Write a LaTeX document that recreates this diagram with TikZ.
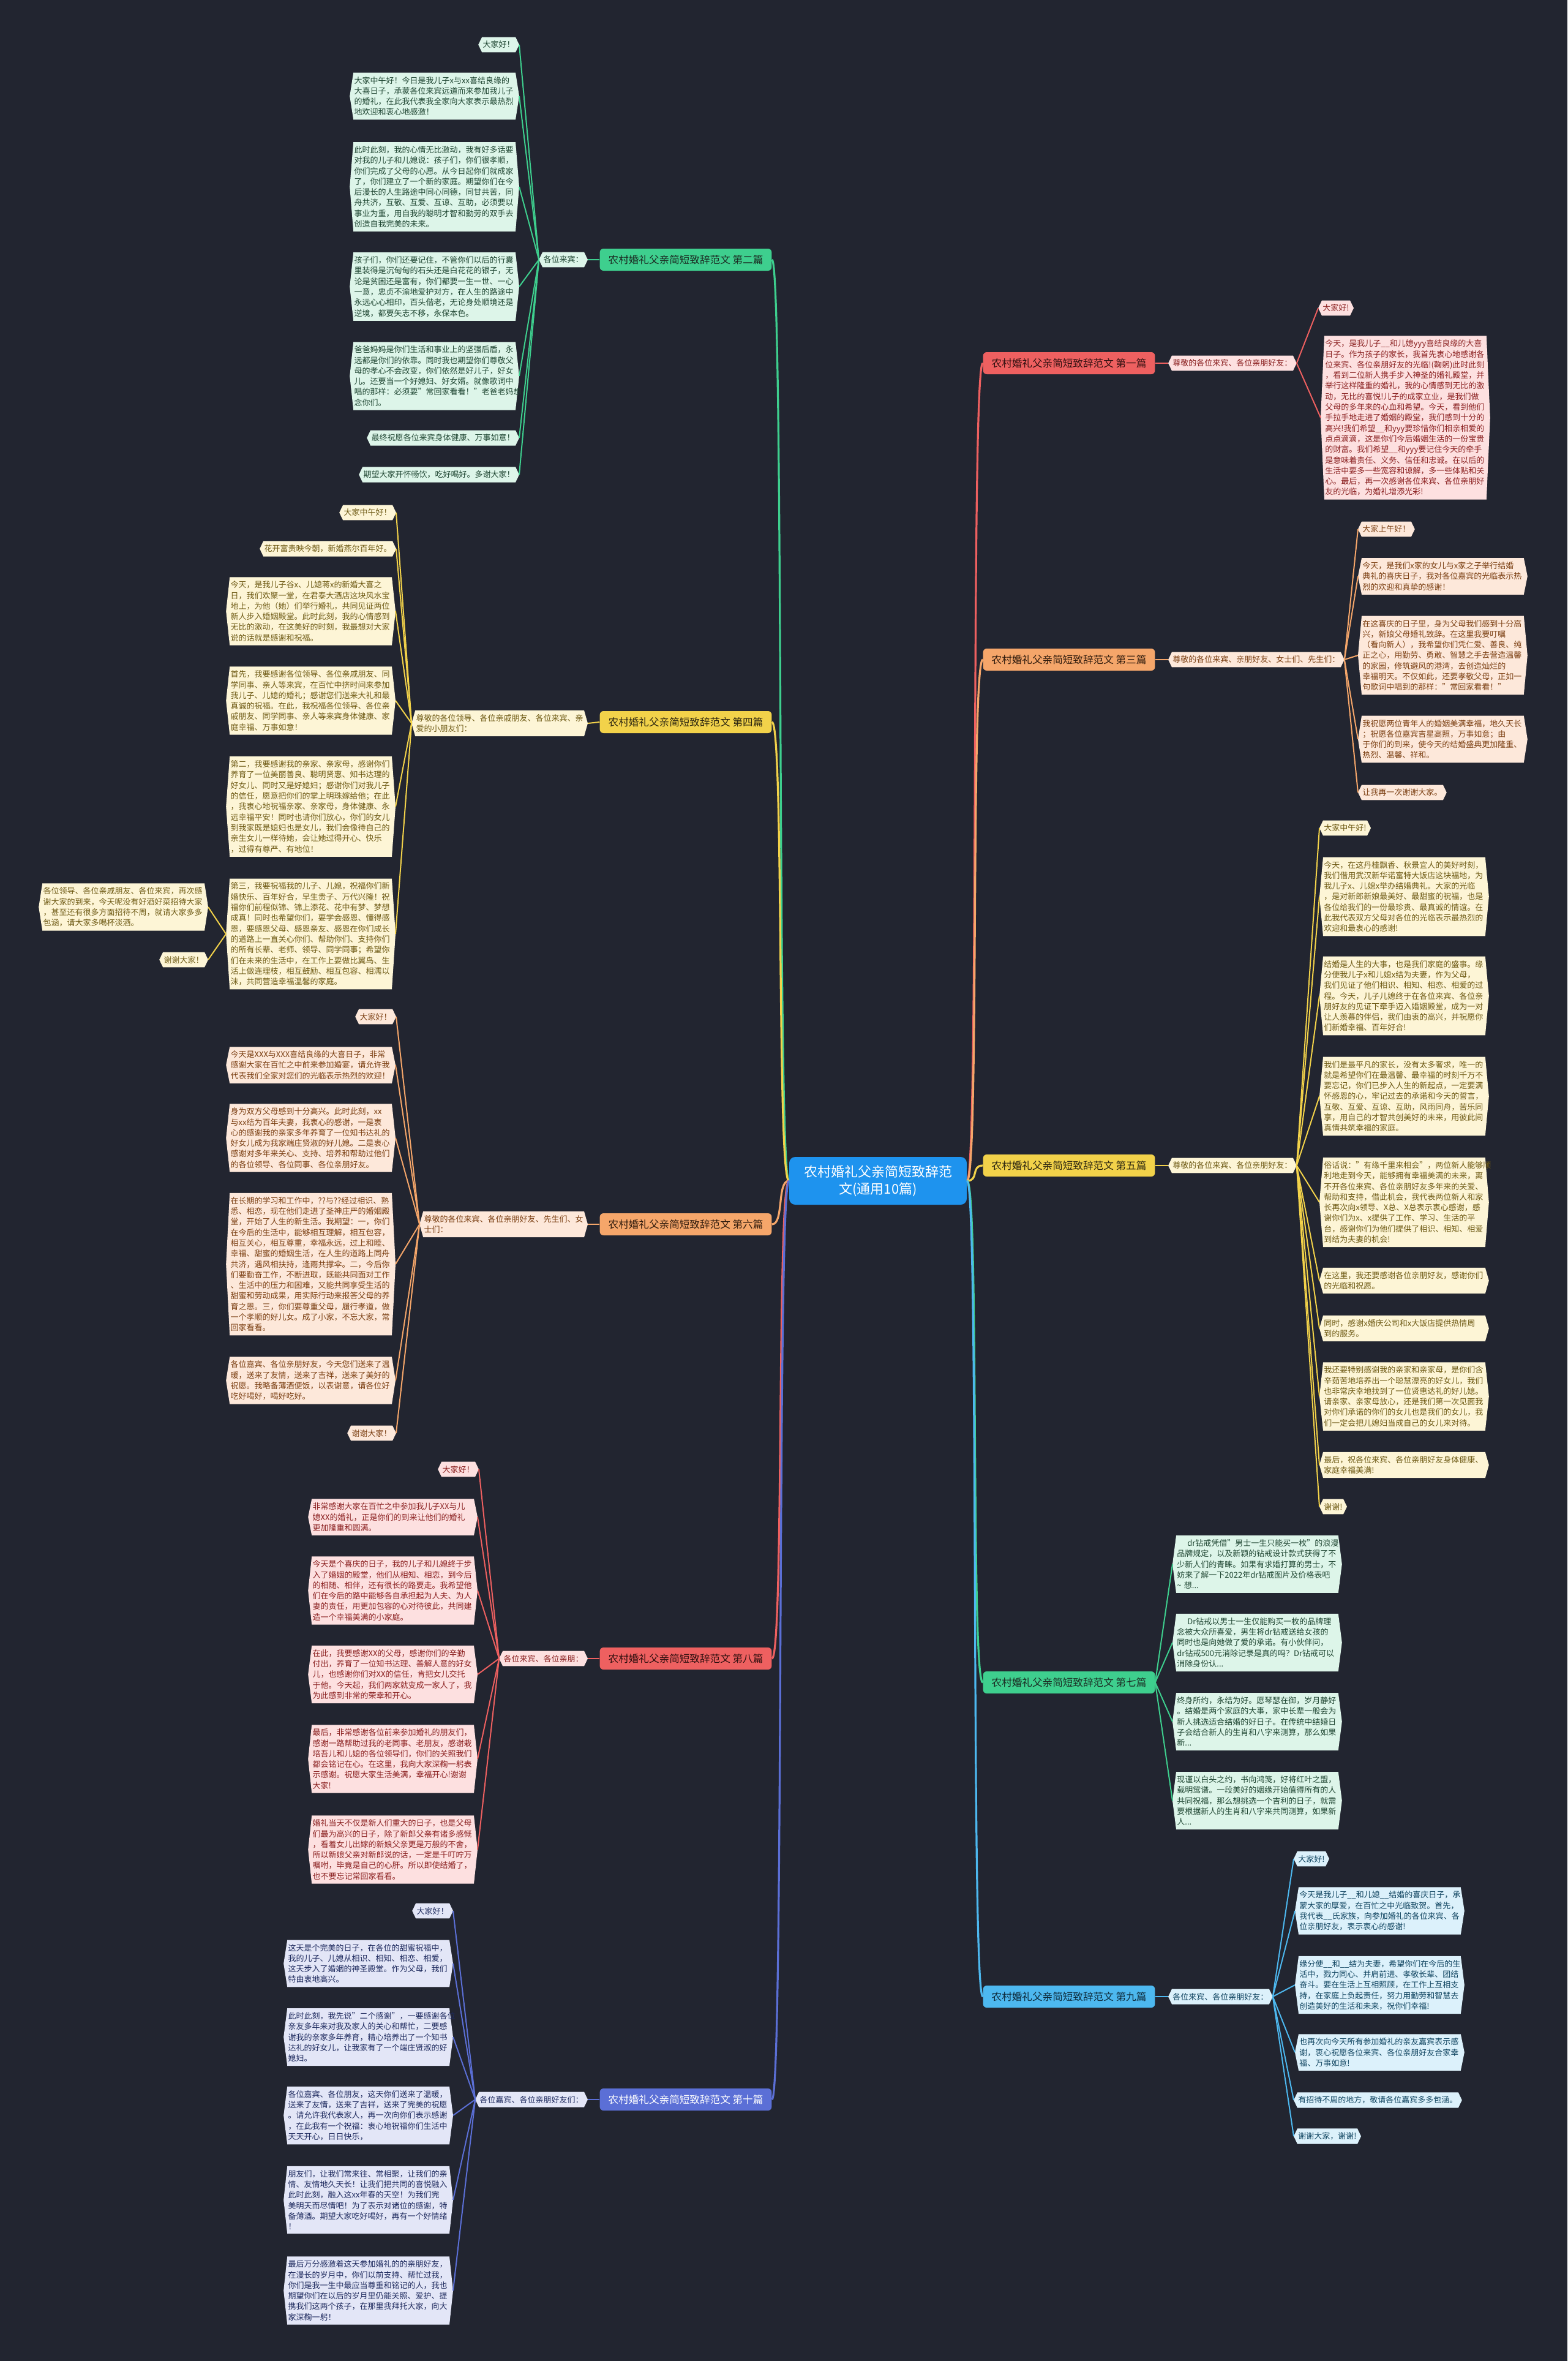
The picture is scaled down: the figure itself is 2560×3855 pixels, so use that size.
\documentclass[tikz,border=0pt]{standalone}
\usepackage{fontspec}
\setmainfont{Noto Sans CJK SC}
\usetikzlibrary{backgrounds}
\pgfdeclarelayer{bgzero}
\pgfsetlayers{bgzero,background,main}
\definecolor{bgc}{HTML}{222530}
\definecolor{gline}{HTML}{3ECF8E}\definecolor{gfill}{HTML}{DDF5E9}\definecolor{gtext}{HTML}{1F4632}\definecolor{gbtext}{HTML}{1B2A22}
\definecolor{yline}{HTML}{F2D24A}\definecolor{yfill}{HTML}{FDF5D6}\definecolor{ytext}{HTML}{6E5A14}\definecolor{ybtext}{HTML}{2A2410}
\definecolor{oline}{HTML}{F5A66A}\definecolor{ofill}{HTML}{FDE8DA}\definecolor{otext}{HTML}{7B3F12}\definecolor{obtext}{HTML}{2E1A0C}
\definecolor{rline}{HTML}{EE6060}\definecolor{rfill}{HTML}{FDE0E0}\definecolor{rtext}{HTML}{8A1F1F}\definecolor{rbtext}{HTML}{2E0F0F}
\definecolor{iline}{HTML}{5B6FD6}\definecolor{ifill}{HTML}{E3E6F7}\definecolor{itext}{HTML}{1E2A5E}\definecolor{ibtext}{HTML}{FFFFFF}
\definecolor{bline}{HTML}{4DB8EF}\definecolor{bfill}{HTML}{DCF1FB}\definecolor{btext}{HTML}{0F4460}\definecolor{bbtext}{HTML}{0E2A3A}
\definecolor{cfill}{HTML}{1E93EE}
\tikzset{
  leaf/.style={text=#1text, font=\fontsize{6.5pt}{8.65pt}\selectfont, inner xsep=3.5pt, inner ysep=3pt, align=left},
  big/.style={text width=131pt},
  conn/.style={draw=#1line, line width=1pt},
  trunk/.style={draw=#1line, line width=1.6pt},
  branch/.style={fill=#1line, text=#1btext, rounded corners=3pt, font=\fontsize{8.3pt}{10pt}\selectfont, minimum height=18pt, inner xsep=7pt},
  centre/.style={fill=cfill, text=white, rounded corners=5pt, font=\fontsize{11pt}{14pt}\selectfont, minimum width=145pt, minimum height=39pt, align=center}
}
\newcommand\leafnode[6][]{%
  \node[leaf=#3,#1,anchor=#4] (#2) at (#5) {#6};
  \begin{pgfonlayer}{background}
  \fill[#3fill] (#2.west) -- ([xshift=3pt]#2.north west) -- ([xshift=-3pt]#2.north east) -- (#2.east) -- ([xshift=-3pt]#2.south east) -- ([xshift=3pt]#2.south west) -- cycle;
  \end{pgfonlayer}}
\begin{document}
\begin{tikzpicture}[x=0.5pt,y=-0.5pt]
\begin{pgfonlayer}{bgzero}
\fill[bgc] (0,0) rectangle (2560,3855);
\end{pgfonlayer}
\useasboundingbox (0,0) rectangle (2560,3855);

% centre
\node[centre] (c) at (1434,1928) {农村婚礼父亲简短致辞范\\文(通用10篇)};

% branches
\node[branch=g] (b2) at (1120,424) {农村婚礼父亲简短致辞范文 第二篇};
\node[branch=y] (b4) at (1120,1179) {农村婚礼父亲简短致辞范文 第四篇};
\node[branch=o] (b6) at (1120,1999) {农村婚礼父亲简短致辞范文 第六篇};
\node[branch=r] (b8) at (1120,2708) {农村婚礼父亲简短致辞范文 第八篇};
\node[branch=i] (b10) at (1120,3428) {农村婚礼父亲简短致辞范文 第十篇};
\node[branch=r] (b1) at (1746,593) {农村婚礼父亲简短致辞范文 第一篇};
\node[branch=o] (b3) at (1746,1077) {农村婚礼父亲简短致辞范文 第三篇};
\node[branch=y] (b5) at (1746,1903) {农村婚礼父亲简短致辞范文 第五篇};
\node[branch=g] (b7) at (1746,2747) {农村婚礼父亲简短致辞范文 第七篇};
\node[branch=b] (b9) at (1746,3260) {农村婚礼父亲简短致辞范文 第九篇};

% mid labels
\leafnode{m2}{g}{east}{960,424}{各位来宾：}
\leafnode{m4}{y}{east}{960,1181}{尊敬的各位领导、各位亲戚朋友、各位来宾、亲\\爱的小朋友们：}
\leafnode{m6}{o}{east}{960,1999}{尊敬的各位来宾、各位亲朋好友、先生们、女\\士们：}
\leafnode{m8}{r}{east}{960,2708}{各位来宾、各位亲朋：}
\leafnode{m10}{i}{east}{960,3428}{各位嘉宾、各位亲朋好友们：}
\leafnode{m1}{r}{west}{1908,593}{尊敬的各位来宾、各位亲朋好友：}
\leafnode{m3}{o}{west}{1908,1077}{尊敬的各位来宾、亲朋好友、女士们、先生们：}
\leafnode{m5}{y}{west}{1908,1903}{尊敬的各位来宾、各位亲朋好友：}
\leafnode{m9}{b}{west}{1908,3260}{各位来宾、各位亲朋好友：}

% ---------- 第二篇
\leafnode{l2a}{g}{east}{848,73}{大家好！}
\leafnode[big]{l2b}{g}{east}{848,157}{大家中午好！今日是我儿子x与xx喜结良缘的\\大喜日子，承蒙各位来宾远道而来参加我儿子\\的婚礼，在此我代表我全家向大家表示最热烈\\地欢迎和衷心地感激！}
\leafnode[big]{l2c}{g}{east}{848,305}{此时此刻，我的心情无比激动，我有好多话要\\对我的儿子和儿媳说：孩子们，你们很孝顺，\\你们完成了父母的心愿。从今日起你们就成家\\了，你们建立了一个新的家庭。期望你们在今\\后漫长的人生路途中同心同德，同甘共苦，同\\舟共济，互敬、互爱、互谅、互助，必须要以\\事业为重，用自我的聪明才智和勤劳的双手去\\创造自我完美的未来。}
\leafnode[big]{l2d}{g}{east}{848,468}{孩子们，你们还要记住，不管你们以后的行囊\\里装得是沉甸甸的石头还是白花花的银子，无\\论是贫困还是富有，你们都要一生一世、一心\\一意，忠贞不渝地爱护对方，在人生的路途中\\永远心心相印，百头偕老，无论身处顺境还是\\逆境，都要矢志不移，永保本色。}
\leafnode[big]{l2e}{g}{east}{848,614}{爸爸妈妈是你们生活和事业上的坚强后盾，永\\远都是你们的依靠。同时我也期望你们尊敬父\\母的孝心不会改变，你们依然是好儿子，好女\\儿。还要当一个好媳妇、好女婿。就像歌词中\\唱的那样：必须要"常回家看看！"老爸老妈想\\念你们。}
\leafnode{l2f}{g}{east}{848,715}{最终祝愿各位来宾身体健康、万事如意！}
\leafnode{l2g}{g}{east}{848,775}{期望大家开怀畅饮，吃好喝好。多谢大家！}

% ---------- 第四篇
\leafnode{l4a}{y}{east}{647,837}{大家中午好！}
\leafnode{l4b}{y}{east}{647,896}{花开富贵映今朝，新婚燕尔百年好。}
\leafnode[big]{l4c}{y}{east}{646,998}{今天，是我儿子谷x、儿媳蒋x的新婚大喜之\\日，我们欢聚一堂，在君泰大酒店这块风水宝\\地上，为他（她）们举行婚礼，共同见证两位\\新人步入婚姻殿堂。此时此刻，我的心情感到\\无比的激动，在这美好的时刻，我最想对大家\\说的话就是感谢和祝福。}
\leafnode[big]{l4d}{y}{east}{646,1144}{首先，我要感谢各位领导、各位亲戚朋友、同\\学同事、亲人等来宾，在百忙中挤时间来参加\\我儿子、儿媳的婚礼；感谢您们送来大礼和最\\真诚的祝福。在此，我祝福各位领导、各位亲\\戚朋友、同学同事、亲人等来宾身体健康、家\\庭幸福、万事如意！}
\leafnode[big]{l4e}{y}{east}{646,1317}{第二，我要感谢我的亲家、亲家母，感谢你们\\养育了一位美丽善良、聪明贤惠、知书达理的\\好女儿、同时又是好媳妇；感谢你们对我儿子\\的信任，愿意把你们的掌上明珠嫁给他；在此\\，我衷心地祝福亲家、亲家母，身体健康、永\\远幸福平安！同时也请你们放心，你们的女儿\\到我家既是媳妇也是女儿，我们会像待自己的\\亲生女儿一样待她，会让她过得开心、快乐\\，过得有尊严、有地位！}
\leafnode[big]{l4f}{y}{east}{646,1525}{第三，我要祝福我的儿子、儿媳，祝福你们新\\婚快乐、百年好合，早生贵子、万代兴隆！祝\\福你们前程似锦、锦上添花、花中有梦、梦想\\成真！同时也希望你们，要学会感恩、懂得感\\恩，要感恩父母、感恩亲友、感恩在你们成长\\的道路上一直关心你们、帮助你们、支持你们\\的所有长辈、老师、领导、同学同事；希望你\\们在未来的生活中，在工作上要做比翼鸟、生\\活上做连理枝，相互鼓励、相互包容、相濡以\\沫，共同营造幸福温馨的家庭。}
\leafnode[big]{l4g}{y}{east}{340,1481}{各位领导、各位亲戚朋友、各位来宾，再次感\\谢大家的到来，今天呢没有好酒好菜招待大家\\，甚至还有很多方面招待不周，就请大家多多\\包涵，请大家多喝杯淡酒。}
\leafnode{l4h}{y}{east}{340,1567}{谢谢大家！}

% ---------- 第六篇
\leafnode{l6a}{o}{east}{647,1660}{大家好！}
\leafnode[big]{l6b}{o}{east}{646,1739}{今天是XXX与XXX喜结良缘的大喜日子，非常\\感谢大家在百忙之中前来参加婚宴，请允许我\\代表我们全家对您们的光临表示热烈的欢迎！}
\leafnode[big]{l6c}{o}{east}{646,1858}{身为双方父母感到十分高兴。此时此刻，xx\\与xx结为百年夫妻，我衷心的感谢，一是衷\\心的感谢我的亲家多年养育了一位知书达礼的\\好女儿成为我家端庄贤淑的好儿媳。二是衷心\\感谢对多年来关心、支持、培养和帮助过他们\\的各位领导、各位同事、各位亲朋好友。}
\leafnode[big]{l6d}{o}{east}{646,2064}{在长期的学习和工作中，??与??经过相识、熟\\悉、相恋，现在他们走进了圣神庄严的婚姻殿\\堂，开始了人生的新生活。我期望：一，你们\\在今后的生活中，能够相互理解，相互包容，\\相互关心，相互尊重，幸福永远，过上和睦、\\幸福、甜蜜的婚姻生活，在人生的道路上同舟\\共济，遇风相扶持，逢雨共撑伞。二，今后你\\们要勤奋工作，不断进取，既能共同面对工作\\、生活中的压力和困难，又能共同享受生活的\\甜蜜和劳动成果，用实际行动来报答父母的养\\育之恩。三，你们要尊重父母，履行孝道，做\\一个孝顺的好儿女。成了小家，不忘大家，常\\回家看看。}
\leafnode[big]{l6e}{o}{east}{646,2254}{各位嘉宾、各位亲朋好友，今天您们送来了温\\暖，送来了友情，送来了吉祥，送来了美好的\\祝愿。我略备薄酒便饭，以表谢意，请各位好\\吃好喝好，喝好吃好。}
\leafnode{l6f}{o}{east}{647,2340}{谢谢大家！}

% ---------- 第八篇
\leafnode{l8a}{r}{east}{782,2399}{大家好！}
\leafnode[big]{l8b}{r}{east}{780,2477}{非常感谢大家在百忙之中参加我儿子XX与儿\\媳XX的婚礼，正是你们的到来让他们的婚礼\\更加隆重和圆满。}
\leafnode[big]{l8c}{r}{east}{780,2597}{今天是个喜庆的日子，我的儿子和儿媳终于步\\入了婚姻的殿堂，他们从相知、相恋，到今后\\的相随、相伴，还有很长的路要走。我希望他\\们在今后的路中能够各自承担起为人夫、为人\\妻的责任，用更加包容的心对待彼此，共同建\\造一个幸福美满的小家庭。}
\leafnode[big]{l8d}{r}{east}{780,2734}{在此，我要感谢XX的父母，感谢你们的辛勤\\付出，养育了一位知书达理、善解人意的好女\\儿，也感谢你们对XX的信任，肯把女儿交托\\于他。今天起，我们两家就变成一家人了，我\\为此感到非常的荣幸和开心。}
\leafnode[big]{l8e}{r}{east}{780,2872}{最后，非常感谢各位前来参加婚礼的朋友们，\\感谢一路帮助过我的老同事、老朋友，感谢栽\\培吾儿和儿媳的各位领导们，你们的关照我们\\都会铭记在心。在这里，我向大家深鞠一躬表\\示感谢。祝愿大家生活美满，幸福开心!谢谢\\大家!}
\leafnode[big]{l8f}{r}{east}{780,3020}{婚礼当天不仅是新人们重大的日子，也是父母\\们最为高兴的日子，除了新郎父亲有诸多感慨\\，看着女儿出嫁的新娘父亲更是万般的不舍，\\所以新娘父亲对新郎说的话，一定是千叮咛万\\嘱咐，毕竟是自己的心肝。所以即使结婚了，\\也不要忘记常回家看看。}

% ---------- 第十篇
\leafnode{l10a}{i}{east}{740,3120}{大家好！}
\leafnode[big]{l10b}{i}{east}{740,3206}{这天是个完美的日子，在各位的甜蜜祝福中，\\我的儿子、儿媳从相识、相知、相恋、相爱，\\这天步入了婚姻的神圣殿堂。作为父母，我们\\特由衷地高兴。}
\leafnode[big]{l10c}{i}{east}{740,3326}{此时此刻，我先说"二个感谢"，一要感谢各位\\亲友多年来对我及家人的关心和帮忙，二要感\\谢我的亲家多年养育，精心培养出了一个知书\\达礼的好女儿，让我家有了一个端庄贤淑的好\\媳妇。}
\leafnode[big]{l10d}{i}{east}{740,3454}{各位嘉宾、各位朋友，这天你们送来了温暖，\\送来了友情，送来了吉祥，送来了完美的祝愿\\。请允许我代表家人，再一次向你们表示感谢\\，在此我有一个祝福：衷心地祝福你们生活中\\天天开心，日日快乐，}
\leafnode[big]{l10e}{i}{east}{740,3592}{朋友们，让我们常来往、常相聚，让我们的亲\\情、友情地久天长！让我们把共同的喜悦融入\\此时此刻，融入这xx年春的天空！为我们完\\美明天而尽情吧！为了表示对诸位的感谢，特\\备薄酒。期望大家吃好喝好，再有一个好情绪\\！}
\leafnode[big]{l10f}{i}{east}{740,3740}{最后万分感激着这天参加婚礼的的亲朋好友，\\在漫长的岁月中，你们以前支持、帮忙过我，\\你们是我一生中最应当尊重和铭记的人，我也\\期望你们在以后的岁月里仍能关照、爱护、提\\携我们这两个孩子，在那里我拜托大家，向大\\家深鞠一躬！}

% ---------- 第一篇
\leafnode{l1a}{r}{west}{2153,503}{大家好!}
\leafnode[big]{l1b}{r}{west}{2157,682}{今天，是我儿子\_\_和儿媳yyy喜结良缘的大喜\\日子。作为孩子的家长，我首先衷心地感谢各\\位来宾、各位亲朋好友的光临!(鞠躬)此时此刻\\，看到二位新人携手步入神圣的婚礼殿堂，并\\举行这样隆重的婚礼，我的心情感到无比的激\\动，无比的喜悦!儿子的成家立业，是我们做\\父母的多年来的心血和希望。今天，看到他们\\手拉手地走进了婚姻的殿堂，我们感到十分的\\高兴!我们希望\_\_和yyy要珍惜你们相亲相爱的\\点点滴滴，这是你们今后婚姻生活的一份宝贵\\的财富。我们希望\_\_和yyy要记住今天的牵手\\是意味着责任、义务、信任和忠诚。在以后的\\生活中要多一些宽容和谅解，多一些体贴和关\\心。最后，再一次感谢各位来宾、各位亲朋好\\友的光临，为婚礼增添光彩!}

% ---------- 第三篇
\leafnode{l3a}{o}{west}{2218,864}{大家上午好！}
\leafnode[big]{l3b}{o}{west}{2218,941}{今天，是我们x家的女儿与x家之子举行结婚\\典礼的喜庆日子，我对各位嘉宾的光临表示热\\烈的欢迎和真挚的感谢！}
\leafnode[big]{l3c}{o}{west}{2218,1070}{在这喜庆的日子里，身为父母我们感到十分高\\兴，新娘父母婚礼致辞。在这里我要叮嘱\\（看向新人），我希望你们凭仁爱、善良、纯\\正之心，用勤劳、勇敢、智慧之手去营造温馨\\的家园，修筑避风的港湾，去创造灿烂的\\幸福明天。不仅如此，还要孝敬父母，正如一\\句歌词中唱到的那样："常回家看看！"}
\leafnode[big]{l3d}{o}{west}{2218,1207}{我祝愿两位青年人的婚姻美满幸福，地久天长\\；祝愿各位嘉宾吉星高照，万事如意；由\\于你们的到来，使今天的结婚盛典更加隆重、\\热烈、温馨、祥和。}
\leafnode{l3e}{o}{west}{2218,1294}{让我再一次谢谢大家。}

% ---------- 第五篇
\leafnode{l5a}{y}{west}{2155,1352}{大家中午好!}
\leafnode[big]{l5b}{y}{west}{2155,1464}{今天，在这丹桂飘香、秋景宜人的美好时刻，\\我们借用武汉新华诺富特大饭店这块福地，为\\我儿子x、儿媳x举办结婚典礼。大家的光临\\，是对新郎新娘最美好、最甜蜜的祝福，也是\\各位给我们的一份最珍贵、最真诚的情谊。在\\此我代表双方父母对各位的光临表示最热烈的\\欢迎和最衷心的感谢!}
\leafnode[big]{l5c}{y}{west}{2155,1626}{结婚是人生的大事，也是我们家庭的盛事。缘\\分使我儿子x和儿媳x结为夫妻，作为父母，\\我们见证了他们相识、相知、相恋、相爱的过\\程。今天，儿子儿媳终于在各位来宾、各位亲\\朋好友的见证下牵手迈入婚姻殿堂，成为一对\\让人羡慕的伴侣，我们由衷的高兴，并祝愿你\\们新婚幸福、百年好合!}
\leafnode[big]{l5d}{y}{west}{2155,1790}{我们是最平凡的家长，没有太多奢求，唯一的\\就是希望你们在最温馨、最幸福的时刻千万不\\要忘记，你们已步入人生的新起点，一定要满\\怀感恩的心，牢记过去的承诺和今天的誓言，\\互敬、互爱、互谅、互助，风雨同舟，苦乐同\\享，用自己的才智共创美好的未来，用彼此间\\真情共筑幸福的家庭。}
\leafnode[big]{l5e}{y}{west}{2155,1963}{俗话说："有缘千里来相会"，两位新人能够顺\\利地走到今天，能够拥有幸福美满的未来，离\\不开各位来宾、各位亲朋好友多年来的关爱、\\帮助和支持，借此机会，我代表两位新人和家\\长再次向x领导、X总、X总表示衷心感谢，感\\谢你们为x、x提供了工作、学习、生活的平\\台，感谢你们为他们提供了相识、相知、相爱\\到结为夫妻的机会!}
\leafnode[big]{l5f}{y}{west}{2155,2091}{在这里，我还要感谢各位亲朋好友，感谢你们\\的光临和祝愿。}
\leafnode[big]{l5g}{y}{west}{2155,2169}{同时，感谢x婚庆公司和x大饭店提供热情周\\到的服务。}
\leafnode[big]{l5h}{y}{west}{2155,2280}{我还要特别感谢我的亲家和亲家母，是你们含\\辛茹苦地培养出一个聪慧漂亮的好女儿，我们\\也非常庆幸地找到了一位贤惠达礼的好儿媳。\\请亲家、亲家母放心，还是我们第一次见面我\\对你们承诺的你们的女儿也是我们的女儿，我\\们一定会把儿媳妇当成自己的女儿来对待。}
\leafnode[big]{l5i}{y}{west}{2155,2392}{最后，祝各位来宾、各位亲朋好友身体健康、\\家庭幸福美满!}
\leafnode{l5j}{y}{west}{2155,2460}{谢谢!}

% ---------- 第七篇
\leafnode[big]{l7a}{g}{west}{1915,2554}{\hspace*{1.3em}dr钻戒凭借"男士一生只能买一枚"的浪漫\\品牌规定，以及新颖的钻戒设计款式获得了不\\少新人们的青睐。如果有求婚打算的男士，不\\妨来了解一下2022年dr钻戒图片及价格表吧\\\textasciitilde{} 想...}
\leafnode[big]{l7b}{g}{west}{1915,2682}{\hspace*{1.3em}Dr钻戒以男士一生仅能购买一枚的品牌理\\念被大众所喜爱，男生将dr钻戒送给女孩的\\同时也是向她做了爱的承诺。有小伙伴问，\\dr钻戒500元消除记录是真的吗？Dr钻戒可以\\消除身份认...}
\leafnode[big]{l7c}{g}{west}{1915,2811}{终身所约，永结为好。愿琴瑟在御，岁月静好\\。结婚是两个家庭的大事，家中长辈一般会为\\新人挑选适合结婚的好日子。在传统中结婚日\\子会结合新人的生肖和八字来测算，那么如果\\新...}
\leafnode[big]{l7d}{g}{west}{1915,2940}{现谨以白头之约，书向鸿笺，好将红叶之盟，\\载明鸳谱。一段美好的姻缘开始值得所有的人\\共同祝福，那么想挑选一个吉利的日子，就需\\要根据新人的生肖和八字来共同测算，如果新\\人...}

% ---------- 第九篇
\leafnode{l9a}{b}{west}{2113,3035}{大家好!}
\leafnode[big]{l9b}{b}{west}{2115,3120}{今天是我儿子\_\_和儿媳\_\_结婚的喜庆日子，承\\蒙大家的厚爱，在百忙之中光临致贺。首先，\\我代表\_\_氏家族，向参加婚礼的各位来宾、各\\位亲朋好友，表示衷心的感谢!}
\leafnode[big]{l9c}{b}{west}{2115,3241}{缘分使\_\_和\_\_结为夫妻，希望你们在今后的生\\活中，戮力同心、并肩前进、孝敬长辈、团结\\奋斗。要在生活上互相照顾，在工作上互相支\\持，在家庭上负起责任，努力用勤劳和智慧去\\创造美好的生活和未来，祝你们幸福!}
\leafnode[big]{l9d}{b}{west}{2115,3351}{也再次向今天所有参加婚礼的亲友嘉宾表示感\\谢，衷心祝愿各位来宾、各位亲朋好友合家幸\\福、万事如意!}
\leafnode{l9e}{b}{west}{2113,3429}{有招待不周的地方，敬请各位嘉宾多多包涵。}
\leafnode{l9f}{b}{west}{2113,3488}{谢谢大家，谢谢!}

% ---------- trunk connectors
\foreach \b/\s in {b2/g,b4/y,b6/o,b8/r,b10/i}
  \draw[trunk=\s] (c.west) .. controls +(-20,0) and +(20,0) .. (\b.east);
\foreach \b/\s in {b1/r,b3/o,b5/y,b7/g,b9/b}
  \draw[trunk=\s] (c.east) .. controls +(20,0) and +(-20,0) .. (\b.west);

% branch -> mid
\foreach \b/\m/\s in {b2/m2/g,b4/m4/y,b6/m6/o,b8/m8/r,b10/m10/i}
  \draw[conn=\s] (\b.west) -- (\m.east);
\foreach \b/\m/\s in {b1/m1/r,b3/m3/o,b5/m5/y,b9/m9/b}
  \draw[conn=\s] (\b.east) -- (\m.west);

% mid -> leaves
\foreach \n in {l2a,l2b,l2c,l2d,l2e,l2f,l2g} \draw[conn=g] (m2.west) -- (\n.east);
\foreach \n in {l4a,l4b,l4c,l4d,l4e,l4f} \draw[conn=y] (m4.west) -- (\n.east);
\foreach \n in {l4g,l4h} \draw[conn=y] (l4f.west) -- (\n.east);
\foreach \n in {l6a,l6b,l6c,l6d,l6e,l6f} \draw[conn=o] (m6.west) -- (\n.east);
\foreach \n in {l8a,l8b,l8c,l8d,l8e,l8f} \draw[conn=r] (m8.west) -- (\n.east);
\foreach \n in {l10a,l10b,l10c,l10d,l10e,l10f} \draw[conn=i] (m10.west) -- (\n.east);
\foreach \n in {l1a,l1b} \draw[conn=r] (m1.east) -- (\n.west);
\foreach \n in {l3a,l3b,l3c,l3d,l3e} \draw[conn=o] (m3.east) -- (\n.west);
\foreach \n in {l5a,l5b,l5c,l5d,l5e,l5f,l5g,l5h,l5i,l5j} \draw[conn=y] (m5.east) -- (\n.west);
\foreach \n in {l7a,l7b,l7c,l7d} \draw[conn=g] (b7.east) -- (\n.west);
\foreach \n in {l9a,l9b,l9c,l9d,l9e,l9f} \draw[conn=b] (m9.east) -- (\n.west);
\end{tikzpicture}
\end{document}
